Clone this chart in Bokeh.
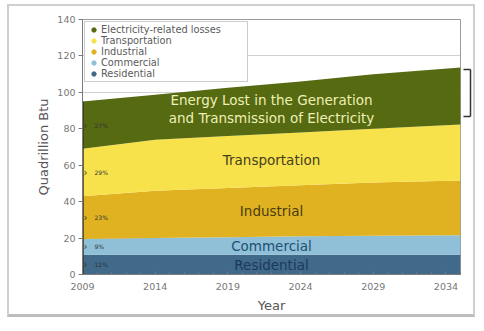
from bokeh.plotting import figure
from bokeh.models import (ColumnDataSource, Legend, LegendItem, Range1d, FixedTicker,
                          LinearAxis)
from bokeh.core.properties import value
from bokeh.embed import file_html
from bokeh.resources import INLINE
import numpy as np

# ---------------- data ----------------
years = [2009, 2014, 2019, 2024, 2029, 2035]
residential = [10.8, 10.8, 10.9, 10.9, 10.8, 10.8]
commercial = [8.7, 9.2, 9.6, 10.1, 10.5, 10.7]
industrial = [23.5, 26.0, 27.0, 28.0, 29.2, 30.1]
transportation = [26.0, 28.0, 28.5, 29.0, 29.5, 30.8]
losses = [26.0, 24.7, 26.5, 28.0, 30.0, 31.2]

series_names = ["Residential", "Commercial", "Industrial", "Transportation", "Electricity-related losses"]
band_labels = ["Residential", "Commercial", "Industrial", "Transportation",
               "Energy Lost in the Generation\nand Transmission of Electricity"]
share_labels = ["12%", "9%", "23%", "29%", "27%"]
y_ticks = [0, 20, 40, 60, 80, 100, 120, 140]
x_ticks = [2009, 2014, 2019, 2024, 2029, 2034]

# ---------------- style ----------------
colors = ["#40698a", "#8fc0d8", "#e0b222", "#f8e24c", "#566a12"]
label_colors = ["#1b3a58", "#1f4f74", "#4b3c0e", "#45401c", "#eef0b4"]
FONT = "DejaVu Sans"

keys = ["res", "com", "ind", "tra", "los"]
vals = [residential, commercial, industrial, transportation, losses]
src = ColumnDataSource(dict(year=years, **{k: v for k, v in zip(keys, vals)}))

cum = np.cumsum(np.array(vals), axis=0)          # tops of each band
bottoms = np.vstack([np.zeros(len(years)), cum[:-1]])

p = figure(width=468, height=313, output_backend="svg", toolbar_location=None,
           x_range=Range1d(years[0], years[-1]), y_range=Range1d(0, 140),
           min_border_left=73, min_border_right=17, min_border_top=13, min_border_bottom=45,
           background_fill_color="white", border_fill_color="white",
           styles={"border": "2px solid #cfcfcf", "border-bottom": "3px solid #bdbdbd",
                   "margin-left": "7px", "margin-top": "4px"})
p.outline_line_color = "#9a9a9a"
p.xgrid.visible = False
p.ygrid.grid_line_color = "#cfcfcf"

# stacked areas
p.varea_stack(stackers=keys, x="year", source=src, color=colors)

# band labels in the middle of each band
xc = (years[0] + years[-1]) / 2
for i, txt in enumerate(band_labels):
    yb = float(np.interp(xc, years, bottoms[i]))
    yt = float(np.interp(xc, years, cum[i]))
    p.text(x=[xc], y=[(yb + yt) / 2], text=[txt], text_align="center", text_baseline="middle",
           text_font=value(FONT), text_font_size="13.5px", text_color=label_colors[i],
           text_line_height=1.1)

# share labels at first year
mids0 = [(bottoms[i][0] + cum[i][0]) / 2 for i in range(len(keys))]
p.segment(x0=[years[0]], y0=[0], x1=[years[0]], y1=[cum[-1][0]],
          line_color="#3b3a1e", line_width=2.5)
p.text(x=[years[0]] * len(mids0), y=mids0, text=["\u203a"] * len(mids0), x_offset=1,
       text_baseline="middle", text_font=value(FONT), text_font_size="10px",
       text_color="#3b3a1e")
p.text(x=[years[0]] * len(mids0), y=mids0, text=share_labels, x_offset=12,
       text_baseline="middle", text_font=value(FONT), text_font_size="6px",
       text_color="#333333")

# legend with dot markers
items = []
for i in reversed(range(len(keys))):
    r = p.scatter(x=[np.nan], y=[np.nan], marker="circle", size=4.5, color=colors[i])
    items.append(LegendItem(label=series_names[i], renderers=[r]))
leg = Legend(items=items, location="top_left", margin=2, padding=2, spacing=0,
             glyph_width=13, glyph_height=11, label_height=11, label_standoff=1,
             label_width=144,
             label_text_font=FONT, label_text_font_size="9.8px", label_text_color="#5a5a5a",
             border_line_color="#9a9a9a", border_line_width=1,
             background_fill_color="white", background_fill_alpha=1)
p.add_layout(leg)

# right side: spacer axis, then a bracket around the last-year losses band
spacer = LinearAxis(ticker=FixedTicker(ticks=[], minor_ticks=[]), axis_line_color=None,
                    major_tick_line_color=None, minor_tick_line_color=None,
                    axis_label="a", axis_label_text_alpha=0,
                    axis_label_text_font_size="7px", axis_label_standoff=0)
p.add_layout(spacer, "right")
btop = cum[-1][-1] - 1.0
bbot = cum[-2][-1] + 4.5
bracket = LinearAxis(ticker=FixedTicker(ticks=[], minor_ticks=[bbot, btop]), bounds=(bbot, btop),
                     axis_line_color="#333333", axis_line_width=1.5,
                     major_tick_line_color=None,
                     minor_tick_line_color="#333333", minor_tick_line_width=1.5,
                     minor_tick_in=7, minor_tick_out=0)
p.add_layout(bracket, "right")

# axes
xa = p.below[0]
ya = p.left[0]
xa.ticker = FixedTicker(ticks=x_ticks, minor_ticks=list(range(years[0], years[-1] + 1)))
ya.ticker = FixedTicker(ticks=y_ticks)
xa.axis_label = "Year"
ya.axis_label = "Quadrillion Btu"
for ax in (xa, ya):
    ax.axis_line_color = "#7a7a7a"
    ax.major_tick_line_color = "#7a7a7a"
    ax.minor_tick_line_color = "#7a7a7a"
    ax.major_label_text_font = FONT
    ax.major_label_text_font_size = "9.5px"
    ax.major_label_text_color = "#777777"
    ax.axis_label_text_font = FONT
    ax.axis_label_text_font_size = "13px"
    ax.axis_label_text_font_style = "normal"
    ax.axis_label_text_color = "#555555"
xa.major_tick_in = 3
xa.major_tick_out = 0
xa.minor_tick_in = 2
xa.minor_tick_out = 0
xa.major_label_standoff = 8
xa.axis_label_standoff = 5
ya.major_tick_out = 4
ya.major_tick_in = 0
ya.minor_tick_line_color = None
ya.major_label_standoff = 3
ya.axis_label_standoff = 3

open("out.html", "w").write(file_html(p, INLINE))
